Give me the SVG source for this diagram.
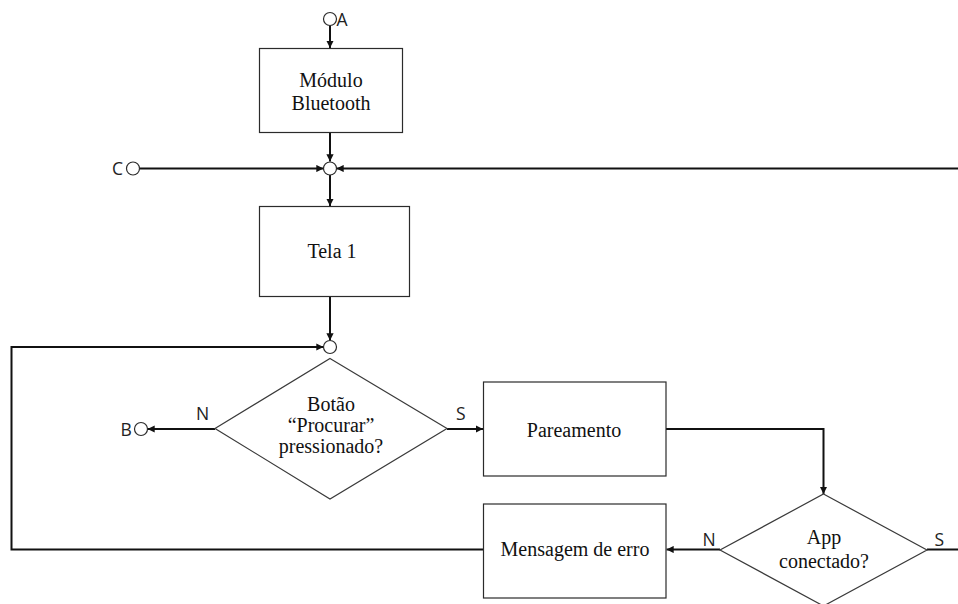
<svg xmlns="http://www.w3.org/2000/svg" width="958" height="604" viewBox="0 0 958 604">
  <style>
    .box { fill: #ffffff; stroke: #2b2b2b; stroke-width: 1.2; }
    .dec { fill: #ffffff; stroke: #3a3a3a; stroke-width: 1.2; }
    .conn { fill: #ffffff; stroke: #2b2b2b; stroke-width: 1.2; }
    .wire { fill: none; stroke: #111111; stroke-width: 2; }
    .txt { font-family: "Liberation Serif", "Times New Roman", serif; font-size: 20px; fill: #111111; text-anchor: middle; }
    .lbl { font-family: "Open Sans", "Liberation Sans", sans-serif; font-size: 17.5px; fill: #222222; }
  </style>
  <defs>
    <marker id="arrow" viewBox="0 0 10 10" refX="10" refY="5" markerWidth="3.6" markerHeight="3.6" orient="auto" markerUnits="strokeWidth">
      <path d="M0,0 L10,5 L0,10 z" fill="#111111"/>
    </marker>
  </defs>

  <rect width="958" height="604" fill="#ffffff"/>

  <g id="connectors">
    <!-- A to Módulo Bluetooth -->
    <line class="wire" x1="330" y1="25.5" x2="330" y2="48" marker-end="url(#arrow)"/>
    <!-- Módulo Bluetooth to junction -->
    <line class="wire" x1="330" y1="133" x2="330" y2="161.5" marker-end="url(#arrow)"/>
    <!-- C to junction -->
    <line class="wire" x1="139.5" y1="168.5" x2="323.5" y2="168.5" marker-end="url(#arrow)"/>
    <!-- return from right -->
    <line class="wire" x1="958" y1="168.5" x2="336.5" y2="168.5" marker-end="url(#arrow)"/>
    <!-- junction to Tela 1 -->
    <line class="wire" x1="330" y1="175" x2="330" y2="206" marker-end="url(#arrow)"/>
    <!-- Tela 1 to junction 2 -->
    <line class="wire" x1="330" y1="297" x2="330" y2="340.5" marker-end="url(#arrow)"/>
    <!-- error loop back to junction 2 -->
    <polyline class="wire" points="484,549.5 11.5,549.5 11.5,347 323.5,347" marker-end="url(#arrow)"/>
    <!-- decision N to B -->
    <line class="wire" x1="215" y1="429" x2="147.5" y2="429" marker-end="url(#arrow)"/>
    <!-- decision S to Pareamento -->
    <line class="wire" x1="447" y1="429" x2="483" y2="429" marker-end="url(#arrow)"/>
    <!-- Pareamento to App conectado? -->
    <polyline class="wire" points="666,429 823.5,429 823.5,494" marker-end="url(#arrow)"/>
    <!-- App conectado? N to Mensagem de erro -->
    <line class="wire" x1="720" y1="549.5" x2="666.5" y2="549.5" marker-end="url(#arrow)"/>
    <!-- App conectado? S to right -->
    <line class="wire" x1="927" y1="549.5" x2="958" y2="549.5"/>
  </g>

  <g id="conn-A">
    <circle class="conn" cx="330" cy="19" r="6.5"/>
    <text class="lbl" x="336.5" y="25.5">A</text>
  </g>

  <g id="modulo-bluetooth">
    <rect class="box" x="259.5" y="48.5" width="143" height="84"/>
    <text class="txt" x="331" y="87">Módulo</text>
    <text class="txt" x="331" y="110">Bluetooth</text>
  </g>

  <g id="junction-1">
    <circle class="conn" cx="330" cy="168.5" r="6.5"/>
  </g>

  <g id="conn-C">
    <circle class="conn" cx="133" cy="168.5" r="6.5"/>
    <text class="lbl" x="112" y="175">C</text>
  </g>

  <g id="tela-1">
    <rect class="box" x="259.5" y="206.5" width="150" height="90"/>
    <text class="txt" x="332" y="258">Tela 1</text>
  </g>

  <g id="junction-2">
    <circle class="conn" cx="330" cy="347" r="6.5"/>
  </g>

  <g id="botao-procurar">
    <polygon class="dec" points="330,358.5 447,428.5 330,499 215,428.5"/>
    <text class="txt" x="331" y="411">Botão</text>
    <text class="txt" x="331" y="432">“Procurar”</text>
    <text class="txt" x="331" y="453">pressionado?</text>
    <text class="lbl" x="196" y="419.5">N</text>
    <text class="lbl" x="456" y="419.5">S</text>
  </g>

  <g id="conn-B">
    <circle class="conn" cx="141" cy="429" r="6.5"/>
    <text class="lbl" x="120.5" y="435.5">B</text>
  </g>

  <g id="pareamento">
    <rect class="box" x="483.5" y="382" width="182.5" height="94"/>
    <text class="txt" x="574" y="437">Pareamento</text>
  </g>

  <g id="app-conectado">
    <polygon class="dec" points="823.5,494 927,550 823.5,606 720,550"/>
    <text class="txt" x="824" y="544">App</text>
    <text class="txt" x="824" y="568">conectado?</text>
    <text class="lbl" x="702.5" y="545.5">N</text>
    <text class="lbl" x="934.5" y="545.5">S</text>
  </g>

  <g id="mensagem-erro">
    <rect class="box" x="483.5" y="504" width="182.5" height="94"/>
    <text class="txt" x="575" y="556">Mensagem de erro</text>
  </g>
</svg>
